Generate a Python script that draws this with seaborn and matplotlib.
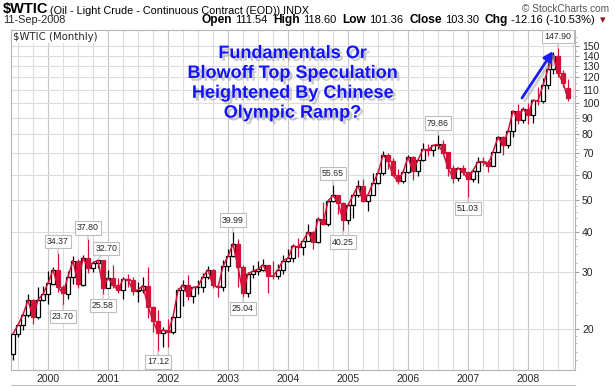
import matplotlib
matplotlib.use("Agg")
import matplotlib.pyplot as plt
import matplotlib.patheffects as pe
import matplotlib.ticker as mticker
from matplotlib.lines import Line2D
from matplotlib.transforms import IdentityTransform
import numpy as np
import pandas as pd
import seaborn as sns

# monthly candles for $WTIC, Jun 1999 .. Sep 2008
months = pd.period_range("1999-06", "2008-09", freq="M")

opens = [
    16.70, 19.30, 20.50, 22.10, 24.50, 21.80, 24.60,
    25.60, 27.60, 30.40, 26.90, 25.70, 29.00, 32.50, 27.40, 33.10, 30.80, 32.00, 32.60,
    26.80, 28.70, 27.40, 26.30, 28.50, 28.40, 26.20, 26.30, 27.20, 23.40, 21.20, 19.40,
    19.80, 19.50, 21.70, 26.30, 27.30, 25.30, 26.90, 27.00, 29.00, 30.40, 27.20, 26.90,
    31.20, 33.50, 36.60, 31.00, 25.80, 29.60, 30.20, 30.50, 31.60, 29.20, 29.10, 30.40,
    32.50, 33.00, 36.20, 35.80, 37.40, 39.90, 37.00, 43.80, 42.10, 49.60, 51.80, 49.10,
    43.50, 48.20, 51.80, 55.40, 49.70, 52.00, 56.50, 60.60, 68.90, 66.20, 59.80, 57.30,
    61.00, 67.90, 61.40, 66.60, 71.90, 71.30, 73.90, 74.40, 70.30, 62.90, 58.70, 63.00,
    61.00, 58.10, 61.80, 65.90, 65.70, 64.00, 70.70, 78.20, 74.00, 81.70, 94.50, 88.70,
    96.00, 91.80, 101.80, 101.60, 113.50, 127.40, 140.00, 124.10, 111.54,
]
highs = [
    19.40, 20.80, 22.30, 25.60, 24.80, 27.00, 27.10,
    30.10, 31.00, 34.37, 27.30, 30.20, 33.50, 32.90, 33.80, 37.80, 32.30, 32.70, 32.60,
    30.30, 31.40, 28.70, 29.00, 29.60, 28.90, 28.00, 29.00, 31.00, 23.60, 22.80, 20.30,
    21.40, 22.00, 26.70, 28.40, 29.40, 26.90, 28.30, 29.80, 31.30, 30.70, 27.60, 32.70,
    35.20, 39.99, 38.00, 31.40, 30.00, 31.60, 32.30, 32.80, 31.60, 32.40, 31.80, 33.80,
    35.30, 36.50, 38.30, 37.90, 42.30, 40.20, 44.30, 49.40, 50.50, 55.65, 52.00, 49.20,
    49.10, 52.10, 57.60, 58.30, 52.70, 60.90, 62.30, 70.85, 70.20, 67.40, 62.30, 61.90,
    69.20, 68.70, 67.10, 75.35, 74.90, 74.20, 79.86, 77.00, 70.40, 64.10, 62.50, 64.30,
    61.10, 62.50, 68.10, 67.90, 66.60, 70.70, 78.80, 78.80, 83.90, 94.50, 99.30, 97.00,
    100.10, 103.00, 111.80, 119.90, 135.10, 143.70, 147.90, 126.40, 118.60,
]
lows = [
    16.00, 18.80, 19.80, 21.70, 20.70, 21.50, 24.30,
    23.90, 27.30, 26.00, 23.70, 24.80, 27.60, 26.70, 27.20, 29.80, 30.00, 30.80, 25.58,
    26.70, 26.80, 25.80, 24.80, 26.90, 25.40, 24.20, 25.80, 21.60, 19.60, 17.12, 17.50,
    17.60, 19.20, 21.70, 23.50, 24.60, 24.00, 25.60, 26.00, 28.60, 26.80, 25.00, 26.20,
    30.10, 33.30, 26.90, 25.04, 25.10, 28.70, 29.40, 30.10, 25.80, 28.50, 28.60, 29.60,
    32.10, 32.20, 33.30, 33.90, 37.30, 35.40, 36.90, 42.00, 41.60, 49.40, 45.20, 40.25,
    42.10, 44.20, 51.30, 49.30, 46.20, 52.00, 56.10, 60.00, 62.60, 59.40, 56.00, 56.70,
    60.70, 57.60, 59.30, 66.00, 68.30, 68.40, 72.00, 69.90, 59.50, 56.60, 57.30, 59.90,
    51.03, 57.00, 56.60, 63.60, 61.30, 63.70, 70.40, 69.00, 72.60, 78.50, 86.00, 86.60,
    86.10, 86.70, 98.60, 100.10, 110.80, 122.70, 120.40, 112.20, 101.36,
]
closes = [
    19.29, 20.53, 22.10, 24.51, 21.75, 24.59, 25.60,
    27.64, 30.43, 26.90, 25.74, 29.01, 32.50, 27.43, 33.12, 30.84, 32.00, 32.60, 26.80,
    28.66, 27.39, 26.29, 28.46, 28.37, 26.25, 26.35, 27.20, 23.43, 21.18, 19.44, 19.84,
    19.48, 21.74, 26.31, 27.29, 25.31, 26.86, 27.02, 28.98, 30.45, 27.22, 26.89, 31.20,
    33.51, 36.60, 31.04, 25.80, 29.56, 30.19, 30.54, 31.57, 29.20, 29.11, 30.41, 32.52,
    33.05, 36.16, 35.76, 37.38, 39.88, 37.05, 43.80, 42.12, 49.64, 51.76, 49.13, 43.45,
    48.20, 51.75, 55.40, 49.72, 51.97, 56.50, 60.57, 68.94, 66.24, 59.76, 57.32, 61.04,
    67.92, 61.41, 66.63, 71.88, 71.29, 73.93, 74.40, 70.26, 62.91, 58.73, 62.97, 61.05,
    58.14, 61.79, 65.87, 65.71, 64.01, 70.68, 78.21, 74.04, 81.66, 94.53, 88.71, 95.98,
    91.75, 101.84, 101.58, 113.46, 127.35, 140.00, 124.08, 115.46, 103.30,
]

# swing highs / lows that carry a price tag
label_months = ["2000-03", "2000-04", "2000-09", "2000-11", "2000-12", "2001-11",
                "2003-02", "2003-04", "2004-10", "2004-12", "2006-07", "2007-01",
                "2008-07"]
label_kinds = ["high", "low", "high", "high", "low", "low",
               "high", "low", "high", "low", "high", "low", "high"]

year_labels = ["2000", "2001", "2002", "2003", "2004", "2005", "2006", "2007", "2008"]
price_ticks = [20, 30, 40, 50, 60, 70, 80, 90, 100, 110, 120, 130, 140, 150]

note = "Fundamentals Or\nBlowoff Top Speculation\nHeightened By Chinese\nOlympic Ramp?"

RED = "#D3123A"
GRID = "#dcdcdc"

df = pd.DataFrame({"open": opens, "high": highs, "low": lows, "close": closes})
df["idx"] = [(p.year - 2000) * 12 + p.month - 1 for p in months]
df["key"] = [str(p) for p in months]
up = df[df.close >= df.open]
dn = df[df.close < df.open]

sns.set_style("white")
plt.rcParams["font.family"] = ["Liberation Sans", "DejaVu Sans"]

W, H = 615, 387
fig = plt.figure(figsize=(W / 100, H / 100), dpi=100, facecolor="white")
L, R, T, B = 11, 575, 30, 370
ax = fig.add_axes([L / W, 1 - B / H, (R - L) / W, (B - T) / H])
ax.set_yscale("log")

# grid: quarterly verticals, January ones a bit darker
for q in range(-6, 106, 3):
    ax.axvline(q, color="#c6c6c6" if q % 12 == 0 else GRID, lw=0.8, zorder=0)
for v in price_ticks:
    ax.axhline(v, color=GRID, lw=0.8, zorder=0)

# candles
ax.vlines(up.idx, up.low, up.high, color="black", lw=0.9, zorder=2)
ax.vlines(dn.idx, dn.low, dn.high, color=RED, lw=0.9, zorder=2)
ax.bar(up.idx, up.close - up.open, bottom=up.open, width=0.72,
       facecolor="white", edgecolor="black", lw=0.9, zorder=3)
ax.bar(dn.idx, dn.open - dn.close, bottom=dn.close, width=0.72,
       facecolor=RED, edgecolor=RED, lw=0.9, zorder=3)

# close line
sns.lineplot(x=df.idx, y=df.close, color=RED, lw=1.1, ax=ax, zorder=4)
ax.set_xlabel("")
ax.set_ylabel("")

ax.set_xlim(-7.4, 105.4)
ax.set_ylim(14.9, 168.3)

ax.set_xticks([int(y) * 12 - 24000 for y in year_labels])
ax.set_xticklabels(year_labels, fontsize=7.5)
ax.xaxis.set_minor_locator(mticker.MultipleLocator(1))
ax.tick_params(axis="x", which="major", length=0, pad=3)
ax.tick_params(axis="x", which="minor", length=2, color="#b0b0b0",
               direction="inout", width=0.6)

ax.yaxis.tick_right()
ax.set_yticks(price_ticks)
ax.yaxis.set_major_formatter(mticker.FixedFormatter([str(v) for v in price_ticks]))
minor_vals = list(range(16, 20)) + list(range(22, 100, 2)) + list(range(105, 165, 5))
ax.yaxis.set_minor_locator(mticker.FixedLocator(minor_vals))
ax.yaxis.set_minor_formatter(mticker.NullFormatter())
ax.tick_params(axis="y", which="major", length=3, color="#a0a0a0", labelsize=7.5, pad=2)
ax.tick_params(axis="y", which="minor", length=1.5, color="#b0b0b0")

for s in ax.spines.values():
    s.set_color("#b4b4b4")
    s.set_linewidth(0.8)

# price tags
lookup = df.set_index("key")
nudge = {"2000-11": 6}
for m, kind in zip(label_months, label_kinds):
    row = lookup.loc[m]
    val = row[kind]
    hi = kind == "high"
    ax.annotate(f"{val:.2f}", xy=(row.idx, val),
                xytext=(nudge.get(m, 0), 5 if hi else -5), textcoords="offset points",
                ha="center", va="bottom" if hi else "top", fontsize=6.3, zorder=6,
                bbox=dict(boxstyle="square,pad=0.25", fc="white", ec="#bdbdbd", lw=0.8),
                arrowprops=dict(arrowstyle="-", color="#bdbdbd", lw=0.8,
                                shrinkA=0, shrinkB=0))

ax.text(0.003, 0.994, "$WTIC (Monthly)", transform=ax.transAxes, va="top", ha="left",
        fontsize=7.3, family="DejaVu Sans", zorder=7,
        bbox=dict(boxstyle="square,pad=0.1", fc="white", ec="none"))

# commentary
ax.text(0.499, 0.843, note, transform=ax.transAxes, ha="center", va="center",
        fontsize=13, fontweight="bold", color="#1212ff", linespacing=1.22, zorder=8,
        path_effects=[pe.withSimplePatchShadow(offset=(2, -2), shadow_rgbFace="#8a8a8a",
                                               alpha=0.45)])
ax.annotate("", xy=(0.961, 0.938), xytext=(0.906, 0.80),
            xycoords="axes fraction", textcoords="axes fraction", zorder=8,
            arrowprops=dict(arrowstyle="-|>,head_length=0.55,head_width=0.28",
                            color="#1a1aff", lw=2.0, shrinkA=0, shrinkB=0,
                            path_effects=[pe.SimpleLineShadow(offset=(2, -2),
                                                              shadow_color="#8a8a8a",
                                                              alpha=0.4),
                                          pe.Normal()]))

# header
px = IdentityTransform()
fig.canvas.draw()
rend = fig.canvas.get_renderer()


def put_row(pieces, y, x0=None, x_right=None):
    arts, total = [], 0
    for txt, size, wt, col, gap in pieces:
        a = fig.text(0, y, txt, transform=px, fontsize=size, fontweight=wt,
                     color=col, va="baseline")
        w = a.get_window_extent(renderer=rend).width
        arts.append((a, w, gap))
        total += w + gap
    x = x0 if x0 is not None else x_right - total
    for a, w, gap in arts:
        a.set_x(x)
        x += w + gap


put_row([("$WTIC", 10.5, "bold", "black", 2),
         ("(Oil - Light Crude - Continuous Contract (EOD)) INDX", 7.8, "normal",
          "black", 0)], H - 13.5, x0=3)
fig.text(609, H - 12.5, "\u00a9 StockCharts.com", transform=px, fontsize=7.3,
         color="#555555", va="baseline", ha="right")
fig.text(3, H - 23, "11-Sep-2008", transform=px, fontsize=7.8, va="baseline")

chg = closes[-1] - closes[-2]
pct = chg / closes[-2] * 100
put_row([("Open", 8.6, "bold", "black", 3), (f"{opens[-1]:.2f}", 8.0, "normal", "black", 6),
         ("High", 8.6, "bold", "black", 3), (f"{highs[-1]:.2f}", 8.0, "normal", "black", 6),
         ("Low", 8.6, "bold", "black", 3), (f"{lows[-1]:.2f}", 8.0, "normal", "black", 6),
         ("Close", 8.6, "bold", "black", 3), (f"{closes[-1]:.2f}", 8.0, "normal", "black", 6),
         ("Chg", 8.6, "bold", "black", 3), (f"{chg:.2f} ({pct:.2f}%)", 8.0, "normal", "black", 3)],
        H - 23, x_right=598)
fig.text(600, H - 23, "\u25be", transform=px, fontsize=8, color="#8b1a1a",
         family="DejaVu Sans", va="baseline")

fig.add_artist(Line2D([L / W, R / W], [1 - 385 / H] * 2, color="#c0c0c0", lw=0.8))

fig.savefig("out.png", dpi=100, facecolor="white")
